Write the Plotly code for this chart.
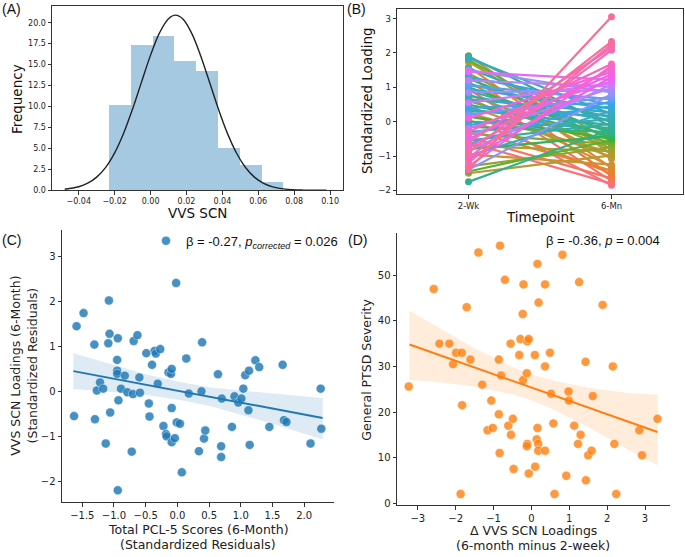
import math
import plotly.graph_objects as go

W, H = 685, 557

# ---------------- Panel A data (histogram of VVS SCN, density) ----------------
hist_edges = [-0.0231, -0.0110, 0.0012, 0.0133, 0.0254, 0.0376, 0.0497, 0.0618, 0.0740]
hist_heights = [10.2, 17.4, 18.4, 15.4, 14.3, 5.1, 3.0, 1.0]
curve_x = [-0.0478, -0.04, -0.035, -0.03, -0.025, -0.02, -0.015, -0.01, -0.005, 0.0,
           0.005, 0.01, 0.0139, 0.018, 0.023, 0.028, 0.033, 0.038, 0.043, 0.048,
           0.053, 0.058, 0.063, 0.068, 0.075, 0.085, 0.098]
curve_y = [0.13, 0.42, 0.84, 1.57, 2.74, 4.47, 6.81, 9.71, 12.94, 16.13,
           18.79, 20.48, 20.9, 20.43, 18.70, 16.00, 12.80, 9.58, 6.70, 4.39,
           2.69, 1.54, 0.82, 0.41, 0.14, 0.02, 0.0]
a_xticks = [-0.04, -0.02, 0.0, 0.02, 0.04, 0.06, 0.08, 0.10]
a_xticklabels = ["\u22120.04", "\u22120.02", "0.00", "0.02", "0.04", "0.06", "0.08", "0.10"]
a_yticks = [0.0, 2.5, 5.0, 7.5, 10.0, 12.5, 15.0, 17.5, 20.0]
a_yticklabels = ["0.0", "2.5", "5.0", "7.5", "10.0", "12.5", "15.0", "17.5", "20.0"]

# ---------------- Panel B data (standardized loadings per subject) ----------------
timepoints = ["2-Wk", "6-Mn"]
loading_6mn = [3.05, 2.33, 2.25, 2.15, 2.08, 1.68, 1.62, 1.55, 1.45, 1.38,
               1.30, 1.22, 1.18, 1.12, 1.08, 1.02, 0.98, 0.92, 0.85, 0.80,
               0.72, 0.65, 0.60, 0.55, 0.50, 0.45, 0.38, 0.32, 0.27, 0.22,
               0.18, 0.12, 0.08, 0.03, -0.02, -0.06, -0.10, -0.14, -0.18, -0.22,
               -0.26, -0.30, -0.34, -0.38, -0.42, -0.46, -0.50, -0.54, -0.58, -0.62,
               -0.65, -0.70, -0.74, -0.78, -0.82, -0.86, -0.90, -0.94, -0.98, -1.02,
               -1.08, -1.25, -1.30, -1.35, -1.42, -1.50, -1.58, -1.65, -1.72, -1.80,
               -1.85]
loading_2wk = [-1.40, -0.90, -1.20, -0.60, -1.05, -0.30, -1.30, -0.75, 0.10, -0.50,
               -1.10, 1.45, -0.20, 0.55, -0.85, 1.20, -0.40, 0.85, 1.50, -1.40,
               0.20, 1.05, -0.65, 0.40, 1.30, -0.10, 0.95, -1.00, 0.65, 1.85,
               0.30, 1.10, -0.30, 0.75, 1.55, -0.55, 0.35, 1.90, 0.00, -1.75,
               0.90, -0.15, 1.25, 0.50, -0.80, 1.00, 0.15, -1.45, 1.80, 0.60,
               -0.35, 1.40, -1.30, 0.80, 1.75, -0.70, 0.25, 1.92, -1.50, 0.45,
               1.15, -0.95, 0.70, 1.60, -0.25, 0.05, 1.35, -0.45, 0.95, -0.60,
               0.30]
b_yticks = [-2, -1, 0, 1, 2, 3]
b_yticklabels = ["\u22122", "\u22121", "0", "1", "2", "3"]

# ---------------- Panel C data (standardized residuals) ----------------
pcl_resid = [-1.63, -1.59, -1.48, -1.31, -1.30, -1.27, -1.22, -1.17, -1.13, -1.09,
             -1.08, -1.07, -1.06, -0.95, -0.95, -0.95, -0.94, -0.93, -0.94, -0.89,
             -0.83, -0.79, -0.72, -0.70, -0.69, -0.63, -0.60, -0.59, -0.49, -0.45,
             -0.44, -0.40, -0.36, -0.34, -0.31, -0.27, -0.22, -0.18, -0.17, -0.14,
             -0.10, -0.09, -0.09, -0.09, -0.04, -0.02, -0.01, 0.04, 0.07, 0.14,
             0.18, 0.34, 0.38, 0.39, 0.42, 0.44, 0.64, 0.69, 0.69, 0.70,
             0.86, 0.90, 0.96, 1.01, 1.04, 1.07, 1.12, 1.13, 1.14, 1.23,
             1.29, 1.45, 1.66, 1.68, 1.72, 2.10, 2.26, 2.27]
vvs_resid = [-0.54, 1.46, 1.75, 1.05, -0.61, 0.03, 0.21, 0.07, -1.15, 1.08,
             2.03, 1.29, -0.46, 0.71, 0.47, 0.40, 1.19, -0.19, -2.19, 0.07,
             0.36, -0.01, -1.33, -0.05, 1.13, 1.26, 0.32, -0.02, 0.86, -0.26,
             -0.55, 0.60, 0.91, 0.85, 0.18, 0.95, -0.76, -0.94, -0.99, 0.43,
             0.40, 0.51, -0.36, -1.12, -1.03, 2.42, -0.68, -0.71, -1.79, 0.74,
             -0.04, -1.32, 0.01, 1.10, -1.04, -0.86, 0.39, -1.21, -1.45, -0.15,
             -0.78, -0.10, -0.24, -0.15, 0.07, 0.37, -0.41, 0.47, -1.18, 0.70,
             0.55, -0.78, 0.60, -0.63, -0.67, -1.15, 0.07, -0.82]
c_fit_x = [-1.64, 2.29]
c_fit_y = [0.46, -0.58]
c_band_x = [-1.64, -1.0, -0.5, 0.0, 0.5, 1.0, 1.5, 2.29]
c_band_hi = [0.86, 0.59, 0.39, 0.23, 0.10, 0.03, -0.04, -0.14]
c_band_lo = [0.06, -0.01, -0.07, -0.17, -0.31, -0.51, -0.71, -1.06]
c_xticks = [-1.5, -1.0, -0.5, 0.0, 0.5, 1.0, 1.5, 2.0]
c_xticklabels = ["\u22121.5", "\u22121.0", "\u22120.5", "0.0", "0.5", "1.0", "1.5", "2.0"]
c_yticks = [-2, -1, 0, 1, 2, 3]
c_yticklabels = ["\u22122", "\u22121", "0", "1", "2", "3"]

# ---------------- Panel D data ----------------
delta_vvs = [-3.24, -2.58, -2.43, -2.17, -2.07, -1.99, -1.84, -1.83, -1.87, -1.71,
             -1.61, -1.40, -1.30, -1.16, -1.06, -1.02, -0.86, -0.86, -0.84, -0.83,
             -0.80, -0.70, -0.61, -0.55, -0.54, -0.49, -0.47, -0.32, -0.29, -0.23,
             -0.22, -0.21, -0.12, -0.11, -0.07, -0.11, -0.12, -0.07, 0.09, 0.10,
             0.14, 0.16, 0.16, 0.18, 0.18, 0.19, 0.36, 0.36, 0.36, 0.49,
             0.52, 0.58, 0.61, 0.82, 0.92, 0.98, 0.99, 1.13, 1.23, 1.26,
             1.30, 1.43, 1.44, 1.50, 1.59, 1.62, 1.88, 2.15, 2.19, 2.24,
             2.85, 2.92, 3.33]
ptsd_severity = [25.6, 47.0, 35.0, 35.0, 30.5, 33.0, 33.0, 21.5, 2.0, 43.0,
                 31.5, 55.0, 26.0, 16.0, 22.5, 16.5, 31.5, 19.5, 11.0, 56.5,
                 28.0, 49.0, 17.0, 35.0, 15.0, 18.5, 7.5, 32.5, 36.0, 41.5,
                 27.0, 48.0, 28.5, 35.5, 36.0, 13.0, 12.5, 6.5, 32.5, 8.0,
                 14.0, 52.5, 16.5, 13.0, 11.5, 44.0, 48.0, 30.0, 11.5, 33.0,
                 24.0, 17.5, 2.0, 54.5, 6.0, 24.5, 22.5, 17.0, 13.0, 48.5,
                 15.0, 31.0, 5.0, 10.5, 11.5, 23.5, 43.5, 30.0, 13.0, 2.0,
                 16.0, 10.5, 18.5]
d_fit_x = [-3.22, 3.33]
d_fit_y = [34.8, 15.6]
d_band_x = [-3.22, -2.5, -1.5, -0.5, 0.0, 0.5, 1.5, 2.5, 3.33]
d_band_hi = [42.2, 38.8, 34.0, 29.9, 28.3, 27.0, 25.3, 24.2, 23.8]
d_band_lo = [27.0, 26.6, 25.6, 23.9, 22.6, 20.9, 16.7, 12.0, 8.3]
d_xticks = [-3, -2, -1, 0, 1, 2, 3]
d_xticklabels = ["\u22123", "\u22122", "\u22121", "0", "1", "2", "3"]
d_yticks = [0, 10, 20, 30, 40, 50]


# ---------------- husl palette (seaborn style) ----------------
_M = [[3.2406, -1.5372, -0.4986], [-0.9689, 1.8758, 0.0415], [0.0557, -0.2040, 1.0570]]
_REFU, _REFV = 0.19784, 0.46834
_KAPPA, _EPS = 24389.0 / 27.0, 216.0 / 24389.0


def _max_chroma(L, Hh):
    hrad = Hh / 360.0 * 2 * math.pi
    sinH, cosH = math.sin(hrad), math.cos(hrad)
    sub1 = (L + 16) ** 3 / 1560896.0
    sub2 = sub1 if sub1 > _EPS else L / _KAPPA
    result = float("inf")
    for m1, m2, m3 in _M:
        top = (0.99915 * m1 + 1.05122 * m2 + 1.14460 * m3) * sub2
        rbottom = 0.86330 * m3 - 0.17266 * m2
        lbottom = 0.12949 * m3 - 0.38848 * m1
        bottom = (rbottom * sinH + lbottom * cosH) * sub2
        for t in (0.0, 1.0):
            C = L * (top - 1.05122 * t) / (bottom + 0.17266 * sinH * t)
            if 0 < C < result:
                result = C
    return result


def _husl_to_rgb(h, s, l):
    C = _max_chroma(l, h) / 100.0 * s
    hrad = math.radians(h)
    U, V = math.cos(hrad) * C, math.sin(hrad) * C
    t = (l + 16) / 116.0
    Y = t ** 3 if t ** 3 > _EPS else (116 * t - 16) / _KAPPA
    varU = U / (13 * l) + _REFU
    varV = V / (13 * l) + _REFV
    X = -(9 * Y * varU) / ((varU - 4) * varV - varU * varV)
    Z = (9 * Y - 15 * varV * Y - varV * X) / (3 * varV)
    out = []
    for row in _M:
        c = row[0] * X + row[1] * Y + row[2] * Z
        c = 12.92 * c if c <= 0.0031308 else 1.055 * c ** (1 / 2.4) - 0.055
        out.append(int(round(min(max(c, 0), 1) * 255)))
    return "rgb(%d,%d,%d)" % tuple(out)


def husl_palette(n, h=0.01, s=0.9, l=0.65):
    cols = []
    for i in range(n):
        hue = ((i / n) + h) % 1 * 359
        cols.append(_husl_to_rgb(hue, s * 99, l * 99))
    return cols


def px(x):
    return x / W


def py(y):
    return 1 - y / H


TICKFONT_S = dict(family="DejaVu Sans", size=8, color="#222")
TICKFONT_B = dict(family="DejaVu Sans", size=8.5, color="#222")
TICKFONT_L = dict(family="DejaVu Sans", size=10, color="#222")
ARIAL = "Liberation Sans, Arial, sans-serif"

fig = go.Figure()

# ---- Panel A ----
bar_centers = [(hist_edges[i] + hist_edges[i + 1]) / 2 for i in range(len(hist_heights))]
bar_widths = [hist_edges[i + 1] - hist_edges[i] for i in range(len(hist_heights))]
fig.add_trace(go.Bar(x=bar_centers, y=hist_heights, width=bar_widths,
                     marker=dict(color="rgba(31,119,180,0.4)", line=dict(width=0)),
                     xaxis="x", yaxis="y", showlegend=False, hoverinfo="skip"))
fig.add_trace(go.Scatter(x=curve_x, y=curve_y, mode="lines", line=dict(color="#222", width=1.4, shape="spline"),
                         xaxis="x", yaxis="y", showlegend=False))

# ---- Panel B ----
n_sub = len(loading_6mn)
pal = husl_palette(n_sub)
order = sorted(range(n_sub), key=lambda i: loading_6mn[i])  # ascending
for rank, i in enumerate(order):
    fig.add_trace(go.Scatter(x=timepoints, y=[loading_2wk[i], loading_6mn[i]], mode="lines+markers",
                             line=dict(color=pal[rank], width=2.2),
                             marker=dict(color=pal[rank], size=7),
                             xaxis="x2", yaxis="y2", showlegend=False))

# ---- Panel C ----
fig.add_trace(go.Scatter(x=c_band_x + c_band_x[::-1], y=c_band_hi + c_band_lo[::-1], fill="toself",
                         fillcolor="rgba(31,119,180,0.15)", line=dict(width=0), mode="lines",
                         xaxis="x3", yaxis="y3", showlegend=False, hoverinfo="skip"))
fig.add_trace(go.Scatter(x=pcl_resid, y=vvs_resid, mode="markers",
                         marker=dict(color="rgba(31,119,180,0.82)", size=9, line=dict(color="white", width=0.4)),
                         name="\u03b2 = -0.27, <i>p</i><sub><i>corrected</i></sub> = 0.026",
                         xaxis="x3", yaxis="y3", showlegend=True))
fig.add_trace(go.Scatter(x=c_fit_x, y=c_fit_y, mode="lines", line=dict(color="#1f77b4", width=2),
                         xaxis="x3", yaxis="y3", showlegend=False))

# ---- Panel D ----
fig.add_trace(go.Scatter(x=d_band_x + d_band_x[::-1], y=d_band_hi + d_band_lo[::-1], fill="toself",
                         fillcolor="rgba(255,127,14,0.15)", line=dict(width=0), mode="lines",
                         xaxis="x4", yaxis="y4", showlegend=False, hoverinfo="skip"))
fig.add_trace(go.Scatter(x=delta_vvs, y=ptsd_severity, mode="markers",
                         marker=dict(color="rgba(255,127,14,0.8)", size=9, line=dict(color="white", width=0.4)),
                         xaxis="x4", yaxis="y4", showlegend=False))
fig.add_trace(go.Scatter(x=d_fit_x, y=d_fit_y, mode="lines", line=dict(color="#ff7f0e", width=2),
                         xaxis="x4", yaxis="y4", showlegend=False))


def ax(domain, rng, tickvals=None, ticktext=None, font=TICKFONT_S, mirror=True, anchor=None, **kw):
    d = dict(domain=domain, range=rng, showgrid=False, zeroline=False, showline=True,
             linecolor="#333", linewidth=1, mirror=mirror, ticks="outside", ticklen=3.5,
             tickwidth=0.8, tickcolor="#333", tickfont=font, fixedrange=True)
    if tickvals is not None:
        d["tickvals"] = tickvals
    if ticktext is not None:
        d["ticktext"] = ticktext
    if anchor:
        d["anchor"] = anchor
    d.update(kw)
    return d


annotations = []


def note(text, x, y, size=14, family=ARIAL, angle=0, xanchor="center", color="#111"):
    annotations.append(dict(text=text, x=px(x), y=py(y), xref="paper", yref="paper", showarrow=False,
                            xanchor=xanchor, yanchor="middle", textangle=angle,
                            font=dict(family=family, size=size, color=color)))


note("(A)", 0, 9, xanchor="left")
note("(B)", 345, 9, xanchor="left")
note("(C)", 0, 242, xanchor="left")
note("(D)", 346, 242, xanchor="left")
note("Frequency", 17, 100, size=13.5, family="DejaVu Sans", angle=-90)
note("VVS SCN", 197, 215, size=13.5, family="DejaVu Sans")
note("Standardized Loading", 367, 102, size=13.5, family="DejaVu Sans", angle=-90)
note("Timepoint", 540, 219, size=13.5, family="DejaVu Sans")
note("VVS SCN Loadings (6-Month)<br>(Standardized Residuals)", 24, 369, size=12.5,
     family="DejaVu Sans", angle=-90, color="#222")
note("Total PCL-5 Scores (6-Month)", 198, 534, size=12.5, family="DejaVu Sans", color="#222")
note("(Standardized Residuals)", 198, 549, size=12.5, family="DejaVu Sans", color="#222")
note("General PTSD Severity", 367, 373, size=12.5, family="DejaVu Sans", angle=-90, color="#222")
note("\u0394 VVS SCN Loadings", 533, 535, size=12.5, family="DejaVu Sans", color="#222")
note("(6-month minus 2-week)", 533, 550, size=12.5, family="DejaVu Sans", color="#222")
note("\u03b2 = -0.36, <i>p</i> = 0.004", 662, 243, size=13, xanchor="right")

fig.update_layout(
    width=W, height=H, margin=dict(l=0, r=0, t=0, b=0),
    paper_bgcolor="white", plot_bgcolor="white",
    xaxis=ax([px(52), px(343)], [-0.0549, 0.1072], a_xticks, a_xticklabels, anchor="y"),
    yaxis=ax([py(192), py(6)], [0, 22.0], a_yticks, a_yticklabels, anchor="x"),
    xaxis2=ax([px(397), px(683)], [-0.5, 1.5], font=TICKFONT_B, anchor="y2", type="category",
              categoryorder="array", categoryarray=timepoints),
    yaxis2=ax([py(196), py(9)], [-2.11, 3.28], b_yticks, b_yticklabels, font=TICKFONT_B, anchor="x2"),
    xaxis3=ax([px(62), px(334)], [-1.82, 2.47], c_xticks, c_xticklabels, font=TICKFONT_L,
              mirror=False, anchor="y3"),
    yaxis3=ax([py(507), py(232)], [-2.46, 3.6], c_yticks, c_yticklabels, font=TICKFONT_L,
              mirror=False, anchor="x3"),
    xaxis4=ax([px(397), px(670)], [-3.55, 3.66], d_xticks, d_xticklabels, font=TICKFONT_L,
              mirror=False, anchor="y4"),
    yaxis4=ax([py(510), py(235)], [-0.5, 59.3], d_yticks, font=TICKFONT_L, mirror=False, anchor="x4"),
    legend=dict(x=px(146), y=py(243), xanchor="left", yanchor="middle", bgcolor="rgba(0,0,0,0)",
                font=dict(family=ARIAL, size=13, color="#111"), borderwidth=0),
    annotations=annotations,
    bargap=0,
)

fig.write_html("out.html", config={"displayModeBar": False},
               post_script="document.body.style.margin='0px';document.body.style.overflow='hidden';")
